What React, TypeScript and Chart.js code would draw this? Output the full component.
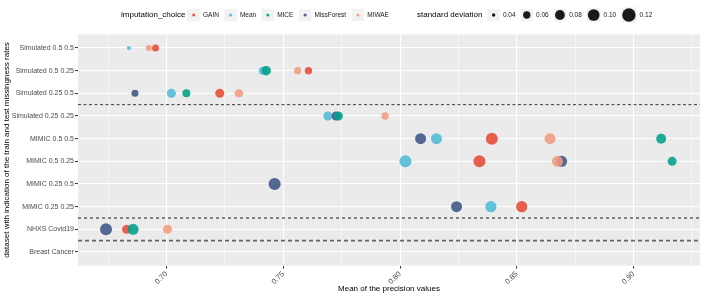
import React, { useEffect, useRef } from 'react';
import { Chart, registerables } from 'chart.js';
Chart.register(...registerables);

const FONT = '"Liberation Sans", Arial, Helvetica, sans-serif';

const categories = [
  'Simulated 0.5 0.5',
  'Simulated 0.5 0.25',
  'Simulated 0.25 0.5',
  'Simulated 0.25 0.25',
  'MIMIC 0.5 0.5',
  'MIMIC 0.5 0.25',
  'MIMIC 0.25 0.5',
  'MIMIC 0.25 0.25',
  'NHXS Covid19',
  'Breast Cancer',
];

const methods = ['GAIN', 'Mean', 'MICE', 'MissForest', 'MIWAE'];
const methodColors = ['#E64B35', '#4DBBD5', '#00A087', '#3C5488', '#F39B7F'];

// GAIN
const gainCats = ['Simulated 0.5 0.5', 'Simulated 0.5 0.25', 'Simulated 0.25 0.5', 'MIMIC 0.5 0.5', 'MIMIC 0.5 0.25', 'MIMIC 0.25 0.25', 'NHXS Covid19'];
const gainMeans = [0.6953, 0.7608, 0.7228, 0.8393, 0.834, 0.8521, 0.6829];
const gainSds = [0.058, 0.06, 0.073, 0.103, 0.103, 0.095, 0.073];
// Mean
const meanCats = ['Simulated 0.5 0.5', 'Simulated 0.5 0.25', 'Simulated 0.25 0.5', 'Simulated 0.25 0.25', 'MIMIC 0.5 0.5', 'MIMIC 0.5 0.25', 'MIMIC 0.25 0.25'];
const meanMeans = [0.6839, 0.7413, 0.7021, 0.7691, 0.8156, 0.8023, 0.8389];
const meanSds = [0.042, 0.065, 0.073, 0.073, 0.092, 0.103, 0.095];
// MICE
const miceCats = ['Simulated 0.5 0.25', 'Simulated 0.25 0.5', 'Simulated 0.25 0.25', 'MIMIC 0.5 0.5', 'MIMIC 0.5 0.25', 'NHXS Covid19'];
const miceMeans = [0.7427, 0.7085, 0.7736, 0.9118, 0.9165, 0.6857];
const miceSds = [0.077, 0.065, 0.073, 0.082, 0.073, 0.092];
// MissForest
const mfCats = ['Simulated 0.25 0.5', 'Simulated 0.25 0.25', 'MIMIC 0.5 0.5', 'MIMIC 0.5 0.25', 'MIMIC 0.25 0.5', 'MIMIC 0.25 0.25', 'NHXS Covid19'];
const mfMeans = [0.6865, 0.7726, 0.8088, 0.8692, 0.7463, 0.8242, 0.6741];
const mfSds = [0.058, 0.073, 0.092, 0.092, 0.105, 0.092, 0.103];
// MIWAE
const miwaeCats = ['Simulated 0.5 0.5', 'Simulated 0.5 0.25', 'Simulated 0.25 0.5', 'Simulated 0.25 0.25', 'MIMIC 0.5 0.5', 'MIMIC 0.5 0.25', 'NHXS Covid19'];
const miwaeMeans = [0.6924, 0.7562, 0.731, 0.7936, 0.8642, 0.8674, 0.7004];
const miwaeSds = [0.052, 0.06, 0.068, 0.06, 0.092, 0.092, 0.073];

const seriesCats = [gainCats, meanCats, miceCats, mfCats, miwaeCats];
const seriesMeans = [gainMeans, meanMeans, miceMeans, mfMeans, miwaeMeans];
const seriesSds = [gainSds, meanSds, miceSds, mfSds, miwaeSds];
// drawing priority (lower = drawn on top)
const seriesOrder = [1, 4, 0, 3, 2];

const xTickValues = [0.675, 0.7, 0.725, 0.75, 0.775, 0.8, 0.825, 0.85, 0.875, 0.9, 0.925];
const sizeLegendValues = [0.04, 0.06, 0.08, 0.1, 0.12];
const separatorPositions = [2.5, 7.5, 8.5];

const X_MIN = 0.6621;
const X_MAX = 0.9284;

const radiusFor = (sd: number) => Math.sqrt(Math.max(1, 525 * sd - 18.1));
const isMajor = (v: number) => Math.round(v * 1000) % 50 === 0;

function hexA(hex: string, a: number) {
  const n = parseInt(hex.slice(1), 16);
  return `rgba(${(n >> 16) & 255},${(n >> 8) & 255},${n & 255},${a})`;
}

const panelPlugin = {
  id: 'panelBg',
  beforeDraw(chart: any) {
    const { ctx, chartArea: a } = chart;
    ctx.save();
    ctx.fillStyle = '#EBEBEB';
    ctx.fillRect(a.left, a.top, a.right - a.left, a.bottom - a.top);
    ctx.restore();
  },
};

const separatorPlugin = {
  id: 'separators',
  afterDatasetsDraw(chart: any) {
    const { ctx, chartArea: a, scales } = chart;
    const styles = [
      { color: '#3a3a3a', width: 1, dash: [3, 2.5] },
      { color: '#1a1a1a', width: 1, dash: [3, 3] },
      { color: '#666666', width: 1.6, dash: [4, 3] },
    ];
    separatorPositions.forEach((p, i) => {
      const y = scales.y.getPixelForValue(p);
      const s = styles[i];
      ctx.save();
      ctx.strokeStyle = s.color;
      ctx.lineWidth = s.width;
      ctx.setLineDash(s.dash);
      ctx.beginPath();
      ctx.moveTo(a.left, y);
      ctx.lineTo(a.right, y);
      ctx.stroke();
      ctx.restore();
    });
  },
};

const legendPlugin = {
  id: 'customLegend',
  afterDraw(chart: any) {
    const { ctx } = chart;
    const cy = 15;
    ctx.save();
    ctx.textBaseline = 'middle';
    ctx.textAlign = 'left';
    // color legend
    ctx.font = `8px ${FONT}`;
    ctx.fillStyle = '#000';
    let x = 121;
    ctx.fillText('imputation_choice', x, cy);
    x += ctx.measureText('imputation_choice').width + 2;
    const key = 12.5;
    methods.forEach((m, i) => {
      ctx.fillStyle = '#F2F2F2';
      ctx.fillRect(x, cy - key / 2, key, key);
      ctx.fillStyle = hexA(methodColors[i], 0.9);
      ctx.beginPath();
      ctx.arc(x + key / 2, cy, 1.6, 0, Math.PI * 2);
      ctx.fill();
      x += key + 3;
      ctx.font = `6.5px ${FONT}`;
      ctx.fillStyle = '#1a1a1a';
      ctx.fillText(m, x, cy);
      x += ctx.measureText(m).width + 5.5;
    });
    // size legend
    x = 417;
    ctx.font = `8px ${FONT}`;
    ctx.fillStyle = '#000';
    ctx.fillText('standard deviation', x, cy);
    x += ctx.measureText('standard deviation').width + 5;
    sizeLegendValues.forEach((v) => {
      const r = radiusFor(v);
      const k = Math.max(key, 2 * r + 2);
      ctx.fillStyle = '#F2F2F2';
      ctx.fillRect(x, cy - k / 2, k, k);
      ctx.fillStyle = '#1a1a1a';
      ctx.beginPath();
      ctx.arc(x + k / 2, cy, r, 0, Math.PI * 2);
      ctx.fill();
      x += k + 3;
      ctx.font = `6.5px ${FONT}`;
      ctx.fillStyle = '#1a1a1a';
      const lbl = v.toFixed(2);
      ctx.fillText(lbl, x, cy);
      x += ctx.measureText(lbl).width + 5;
    });
    ctx.restore();
  },
};

export default function App() {
  const ref = useRef<HTMLCanvasElement>(null);
  useEffect(() => {
    if (!ref.current) return;
    const datasets = methods.map((m, i) => ({
      label: m,
      order: seriesOrder[i],
      data: seriesCats[i].map((c, j) => ({ x: seriesMeans[i][j], y: categories.indexOf(c), sd: seriesSds[i][j] })),
      backgroundColor: hexA(methodColors[i], 0.88),
      borderWidth: 0,
      pointRadius: (ctx: any) => radiusFor(ctx.raw ? ctx.raw.sd : 0.06),
      pointHoverRadius: (ctx: any) => radiusFor(ctx.raw ? ctx.raw.sd : 0.06),
    }));
    const chart = new Chart(ref.current, {
      type: 'scatter',
      data: { datasets },
      options: {
        animation: false,
        responsive: false,
        maintainAspectRatio: false,
        layout: { padding: { top: 34.4, right: 4, bottom: 0, left: 0 } },
        plugins: { legend: { display: false }, tooltip: { enabled: false } },
        scales: {
          x: {
            type: 'linear',
            min: X_MIN,
            max: X_MAX,
            afterBuildTicks: (s: any) => {
              s.ticks = xTickValues.map((v) => ({ value: v }));
            },
            afterFit: (s: any) => {
              s.height = 33.4;
            },
            border: { display: false },
            grid: {
              color: '#FFFFFF',
              lineWidth: (ctx: any) => (ctx.tick && isMajor(ctx.tick.value) ? 1.1 : 0.55),
              drawTicks: true,
              tickLength: 3,
              tickWidth: 1,
              tickColor: (ctx: any) => (ctx.tick && isMajor(ctx.tick.value) ? '#333333' : 'rgba(0,0,0,0)'),
            },
            ticks: {
              autoSkip: false,
              minRotation: 45,
              maxRotation: 45,
              padding: 1,
              color: '#4D4D4D',
              font: { size: 7.5, family: FONT },
              callback: (v: any) => (isMajor(Number(v)) ? Number(v).toFixed(2) : ''),
            },
            title: {
              display: true,
              text: 'Mean of the precision values',
              color: '#000',
              font: { size: 8, family: FONT },
              padding: { top: 0, bottom: 5 },
            },
          },
          y: {
            type: 'linear',
            reverse: true,
            min: -0.6,
            max: 9.6,
            afterBuildTicks: (s: any) => {
              s.ticks = categories.map((_, i) => ({ value: i }));
            },
            afterFit: (s: any) => {
              s.width = 78;
            },
            border: { display: false },
            grid: {
              color: '#FFFFFF',
              lineWidth: 1.1,
              drawTicks: true,
              tickLength: 3,
              tickWidth: 1,
              tickColor: '#333333',
            },
            ticks: {
              autoSkip: false,
              padding: 1,
              color: '#4D4D4D',
              font: { size: 7, family: FONT },
              callback: (v: any) => categories[Math.round(Number(v))] ?? '',
            },
            title: {
              display: true,
              text: 'dataset with indication of the train and test missingness rates',
              color: '#000',
              font: { size: 8, family: FONT },
              padding: { top: 2, bottom: 0 },
            },
          },
        },
      } as any,
      plugins: [panelPlugin, separatorPlugin, legendPlugin],
    });
    return () => chart.destroy();
  }, []);
  return (
    <div style={{ position: 'fixed', left: 0, top: 0, width: 706, height: 299, background: '#fff' }}>
      <canvas ref={ref} width={706} height={299} style={{ width: 706, height: 299, display: 'block' }} />
    </div>
  );
}
